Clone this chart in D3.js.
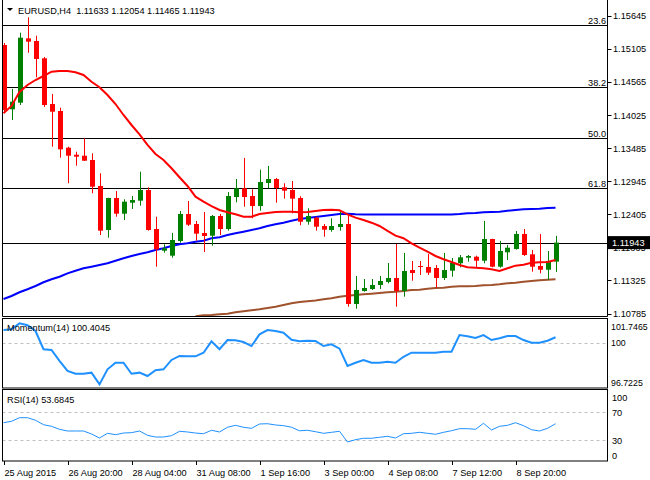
<!DOCTYPE html>
<html>
<head>
<meta charset="utf-8">
<script src="https://cdn.jsdelivr.net/npm/d3@7"></script>
<style>
body { margin: 0; background: #fff; }
svg text { font-family: "Liberation Sans", Arial, sans-serif; font-size: 9.2px; fill: #000; }
</style>
</head>
<body>
<div class="plot_canvas"></div>
<script>
// EURUSD H4 candles
var opens  = [1.15167,1.14118,1.14226,1.15276,1.15232,1.14950,1.14204,1.14090,1.13492,1.13377,
              1.13361,1.13291,1.12867,1.12149,1.12671,1.12415,1.12594,1.12627,1.12801,1.12165,
              1.11811,1.11730,1.11969,1.12410,1.12247,1.12100,1.12056,1.12377,1.12165,1.12687,
              1.12829,1.12704,1.12540,1.12916,1.12981,1.12846,1.12801,1.12671,1.12284,1.12350,
              1.12214,1.12149,1.12198,1.12247,1.10942,1.11154,1.11186,1.11252,1.11301,1.11366,
              1.11154,1.11496,1.11562,1.11545,1.11529,1.11366,1.11485,1.11606,1.11697,1.11713,
              1.11648,1.12002,1.11550,1.11785,1.11839,1.12084,1.11752,1.11562,1.11501,1.11633];
var highs  = [1.15200,1.14449,1.15368,1.15619,1.15319,1.14971,1.14368,1.14144,1.13508,1.13426,
              1.13645,1.13400,1.13074,1.12675,1.12785,1.12650,1.12704,1.13100,1.12846,1.12366,
              1.11916,1.12100,1.12459,1.12622,1.12296,1.12443,1.12394,1.12410,1.12769,1.12981,
              1.13324,1.12813,1.13133,1.13193,1.12997,1.12911,1.12948,1.12699,1.12503,1.12366,
              1.12247,1.12340,1.12464,1.12394,1.11398,1.11349,1.11349,1.11398,1.11611,1.11921,
              1.11774,1.11643,1.11643,1.11757,1.11578,1.11774,1.11692,1.11741,1.11741,1.11730,
              1.12296,1.12005,1.11969,1.11904,1.12133,1.12165,1.11823,1.12084,1.11806,1.12054];
var lows   = [1.14074,1.13943,1.14188,1.15041,1.14640,1.14156,1.13508,1.13328,1.12911,1.13198,
              1.13275,1.12748,1.12067,1.12023,1.12366,1.12312,1.12492,1.12545,1.12138,1.11550,
              1.11779,1.11697,1.11942,1.12214,1.11974,1.11790,1.11893,1.12067,1.12138,1.12601,
              1.12529,1.12340,1.12464,1.12829,1.12594,1.12660,1.12421,1.12226,1.12235,1.12138,
              1.12040,1.12121,1.12138,1.10898,1.10865,1.11142,1.11170,1.11186,1.11279,1.10898,
              1.11061,1.11322,1.11415,1.11415,1.11203,1.11333,1.11387,1.11540,1.11632,1.11540,
              1.11606,1.11540,1.11534,1.11660,1.11828,1.11725,1.11469,1.11442,1.11333,1.11465];
var closes = [1.14107,1.14242,1.15286,1.15221,1.14939,1.14188,1.14079,1.13465,1.13361,1.13345,
              1.13279,1.12855,1.12138,1.12671,1.12415,1.12611,1.12638,1.12801,1.12149,1.11834,
              1.11850,1.11986,1.12410,1.12235,1.12089,1.12051,1.12377,1.12165,1.12704,1.12829,
              1.12687,1.12540,1.12932,1.12981,1.12834,1.12790,1.12660,1.12284,1.12377,1.12203,
              1.12154,1.12214,1.12247,1.10942,1.11170,1.11203,1.11252,1.11317,1.11366,1.11154,
              1.11480,1.11447,1.11545,1.11452,1.11366,1.11496,1.11615,1.11703,1.11725,1.11648,
              1.12002,1.11550,1.11806,1.11860,1.12084,1.11741,1.11550,1.11501,1.11643,1.11943];

// moving averages (red / blue / brown)
var maFast = [1.14053,1.14172,1.14400,1.14514,1.14596,1.14661,1.14731,1.14743,1.14743,1.14722,
              1.14678,1.14568,1.14477,1.14351,1.14204,1.14025,1.13862,1.13710,1.13536,1.13389,
              1.13291,1.13156,1.13009,1.12867,1.12692,1.12611,1.12540,1.12475,1.12438,1.12405,
              1.12366,1.12366,1.12410,1.12426,1.12443,1.12447,1.12447,1.12438,1.12443,1.12459,
              1.12475,1.12480,1.12470,1.12405,1.12350,1.12312,1.12268,1.12214,1.12133,1.12056,
              1.12014,1.11932,1.11860,1.11795,1.11725,1.11671,1.11627,1.11578,1.11540,1.11534,
              1.11524,1.11508,1.11480,1.11524,1.11567,1.11583,1.11615,1.11622,1.11627,1.11660];
var maMid  = [1.11023,1.11072,1.11133,1.11182,1.11235,1.11296,1.11345,1.11387,1.11442,1.11485,
              1.11524,1.11550,1.11578,1.11606,1.11648,1.11687,1.11725,1.11757,1.11785,1.11823,
              1.11850,1.11888,1.11916,1.11932,1.11958,1.11974,1.12014,1.12030,1.12067,1.12095,
              1.12121,1.12149,1.12177,1.12214,1.12242,1.12268,1.12301,1.12328,1.12345,1.12361,
              1.12377,1.12394,1.12410,1.12415,1.12405,1.12402,1.12400,1.12400,1.12400,1.12400,
              1.12400,1.12400,1.12400,1.12400,1.12400,1.12400,1.12402,1.12410,1.12421,1.12426,
              1.12438,1.12443,1.12447,1.12464,1.12475,1.12487,1.12492,1.12496,1.12508,1.12513];
var maSlowStart = 24;
var maSlow = [1.10740,1.10757,1.10762,1.10774,1.10783,1.10806,1.10823,1.10839,1.10855,1.10876,
              1.10898,1.10925,1.10953,1.10974,1.10987,1.10999,1.11018,1.11035,1.11061,1.11077,
              1.11089,1.11100,1.11110,1.11121,1.11133,1.11142,1.11154,1.11170,1.11175,1.11191,
              1.11203,1.11208,1.11224,1.11230,1.11230,1.11235,1.11247,1.11252,1.11263,1.11279,
              1.11289,1.11305,1.11317,1.11328,1.11338,1.11345];

var momentum = [100.92,100.97,101.40,101.26,100.85,99.54,99.49,98.70,97.98,97.78,
                97.78,97.86,97.02,98.10,98.57,98.57,97.78,97.86,97.62,98.03,
                98.10,98.77,99.06,99.03,99.03,99.29,100.11,99.54,100.20,100.18,
                100.06,99.77,100.61,100.92,100.85,100.73,100.22,100.12,100.15,100.13,
                99.77,99.89,99.58,98.34,98.57,98.77,98.57,98.57,98.65,98.57,
                99.00,99.29,99.29,99.29,99.29,99.36,99.36,100.56,100.47,100.35,
                100.56,100.20,100.33,100.49,100.49,100.20,100.01,100.01,100.15,100.40];
var rsi = [55.1,57.1,62.3,62.3,58.6,52.3,50.0,45.7,43.3,43.3,
           43.3,39.0,33.3,40.0,38.0,40.4,40.9,43.3,37.1,34.7,
           34.7,36.6,42.9,41.9,40.4,39.4,44.3,41.9,48.6,51.4,
           48.6,47.1,53.3,53.7,51.9,50.9,48.7,43.6,44.3,42.3,
           40.0,41.4,42.9,27.6,30.9,32.9,32.9,34.3,35.7,33.3,
           39.4,40.0,41.4,40.0,38.6,41.4,43.7,46.6,46.6,45.7,
           54.3,44.7,50.0,51.4,55.1,50.9,45.1,43.3,47.1,53.68];

var priceTicks = [1.15645,1.15105,1.14565,1.14025,1.13485,1.12945,1.12405,1.11865,1.11325,1.10785];
var fibLevels = [1.15493,1.14482,1.13650,1.12834];
var fibNames = ["23.6","38.2","50.0","61.8"];
var momTicks = [101.7465,100,96.7225];
var rsiTicks = [100,70,30,0];
var rsiLevels = [70,30];
var timeIdx = [0,8,16,24,32,40,48,56,64];
var timeLabels = ["25 Aug 2015","26 Aug 20:00","28 Aug 04:00","31 Aug 08:00","1 Sep 16:00",
                  "3 Sep 00:00","4 Sep 08:00","7 Sep 12:00","8 Sep 20:00"];
var header = "EURUSD,H4  1.11633 1.12054 1.11465 1.11943";

var width = 650, height = 480;
var left = 2.5, right = 607.5;
var main = {top: 0, bottom: 316.5};
var momP = {top: 318.5, bottom: 388};
var rsiP = {top: 389.5, bottom: 461};

var x = d3.scaleLinear().domain([0, 69]).range([3.5, 555.5]);
var y = d3.scaleLinear().domain([1.10785, 1.15645]).range([313.6, 15.7]);
var yMom = d3.scaleLinear().domain([96.7225, 101.7465]).range([388.5, 318.5]);
var yRsi = d3.scaleLinear().domain([0, 100]).range([461.3, 391.3]);

var svg = d3.select(".plot_canvas").append("svg")
  .attr("width", width).attr("height", height);

svg.append("clipPath").attr("id", "clipMain").append("rect")
  .attr("x", left).attr("y", main.top).attr("width", right - left).attr("height", main.bottom - main.top);

var g = svg.append("g").attr("clip-path", "url(#clipMain)");

// fibo levels + bid line
g.selectAll(".fib").data(fibLevels.concat([closes[closes.length - 1]])).enter().append("line")
  .attr("x1", left).attr("x2", right)
  .attr("y1", function(d) { return Math.round(y(d)) + 0.5; })
  .attr("y2", function(d) { return Math.round(y(d)) + 0.5; })
  .attr("stroke", "#000").attr("stroke-width", 1);

svg.selectAll(".fibname").data(fibLevels).enter().append("text")
  .attr("x", 606).attr("y", function(d) { return Math.round(y(d)) - 1.5; })
  .attr("text-anchor", "end")
  .text(function(d, i) { return fibNames[i]; });

// moving averages
var ma = d3.line().x(function(d) { return x(d[0]); }).y(function(d) { return y(d[1]); });
g.append("path").attr("d", ma(maMid.map(function(v, i) { return [i, v]; })))
  .attr("fill", "none").attr("stroke", "#0000ff").attr("stroke-width", 2);
g.append("path").attr("d", ma(maSlow.map(function(v, i) { return [i + maSlowStart, v]; })))
  .attr("fill", "none").attr("stroke", "#a0522d").attr("stroke-width", 2);

// candles
var candles = g.selectAll(".candle").data(opens).enter().append("g");
candles.append("line")
  .attr("x1", function(d, i) { return Math.round(x(i)) + 0.5; })
  .attr("x2", function(d, i) { return Math.round(x(i)) + 0.5; })
  .attr("y1", function(d, i) { return y(highs[i]); })
  .attr("y2", function(d, i) { return y(lows[i]); })
  .attr("stroke", function(d, i) { return closes[i] >= d ? "#008000" : "#ff0000"; });
candles.append("rect")
  .attr("x", function(d, i) { return Math.round(x(i)) - 2; })
  .attr("width", 5)
  .attr("y", function(d, i) { return y(Math.max(d, closes[i])); })
  .attr("height", function(d, i) { return Math.max(1, Math.abs(y(d) - y(closes[i]))); })
  .attr("fill", function(d, i) { return closes[i] >= d ? "#008000" : "#ff0000"; });

g.append("path").attr("d", ma(maFast.map(function(v, i) { return [i, v]; })))
  .attr("fill", "none").attr("stroke", "#ff0000").attr("stroke-width", 2);

// header
svg.append("path").attr("d", "M7,8 L13,8 L10,11 Z").attr("fill", "#000");
svg.append("text").attr("x", 18).attr("y", 14).style("white-space", "pre").text(header);

// momentum panel
svg.append("line").attr("x1", left).attr("x2", right)
  .attr("y1", Math.round(yMom(100)) + 0.5).attr("y2", Math.round(yMom(100)) + 0.5)
  .attr("stroke", "#c0c0c0").attr("stroke-dasharray", "3,3");
svg.append("path")
  .attr("d", d3.line().x(function(d, i) { return x(i); }).y(function(d) { return yMom(d); })(momentum))
  .attr("fill", "none").attr("stroke", "#1e90ff").attr("stroke-width", 2);
svg.append("text").attr("x", 7).attr("y", 331).text("Momentum(14) 100.4045");

// rsi panel
svg.selectAll(".rsilvl").data(rsiLevels).enter().append("line")
  .attr("x1", left).attr("x2", right)
  .attr("y1", function(d) { return Math.round(yRsi(d)) + 0.5; })
  .attr("y2", function(d) { return Math.round(yRsi(d)) + 0.5; })
  .attr("stroke", "#c0c0c0").attr("stroke-dasharray", "3,3");
svg.append("path")
  .attr("d", d3.line().x(function(d, i) { return x(i); }).y(function(d) { return yRsi(d); })(rsi))
  .attr("fill", "none").attr("stroke", "#1e90ff").attr("stroke-width", 1);
svg.append("text").attr("x", 7).attr("y", 403).text("RSI(14) 53.6845");

// panel frames
svg.append("path")
  .attr("d", "M" + left + "," + main.top + "V" + main.bottom + "H" + right + "V" + main.top)
  .attr("fill", "none").attr("stroke", "#000");
[momP, rsiP].forEach(function(p) {
  svg.append("rect").attr("x", left).attr("y", p.top)
    .attr("width", right - left).attr("height", p.bottom - p.top)
    .attr("fill", "none").attr("stroke", "#000");
});

// right price axis
var axisR = svg.append("g");
axisR.selectAll(".pt").data(priceTicks).enter().append("line")
  .attr("x1", right).attr("x2", right + 4)
  .attr("y1", function(d) { return Math.round(y(d)) + 0.5; })
  .attr("y2", function(d) { return Math.round(y(d)) + 0.5; })
  .attr("stroke", "#000");
axisR.selectAll(".pl").data(priceTicks).enter().append("text")
  .attr("x", 613).attr("y", function(d) { return y(d) + 3.5; })
  .text(function(d) { return d.toFixed(5); });

// bid box sits on top of the tick label below it, as in the terminal
var last = closes[closes.length - 1];
axisR.append("rect").attr("x", 608).attr("y", y(last) - 6.5).attr("width", 42).attr("height", 13).attr("fill", "#000");
axisR.append("text").attr("x", 612).attr("y", y(last) + 3.5).style("fill", "#fff").text(last.toFixed(5));

// indicator axis labels (clamped inside their panels like the terminal does)
function clampLabel(v, sc, p) { return Math.min(p.bottom - 6, Math.max(p.top + 8, sc(v))); }
svg.selectAll(".ml").data(momTicks).enter().append("text")
  .attr("x", 611).attr("y", function(d) { return clampLabel(d, yMom, momP) + 3.5; })
  .style("font-size", "8.8px")
  .text(function(d) { return d; });
svg.selectAll(".rl").data(rsiTicks).enter().append("text")
  .attr("x", 612).attr("y", function(d) { return clampLabel(d, yRsi, rsiP) + 3.5; })
  .text(function(d) { return d; });

// time axis
svg.selectAll(".tt").data(timeIdx).enter().append("line")
  .attr("x1", function(d) { return Math.round(x(d)) + 0.5; })
  .attr("x2", function(d) { return Math.round(x(d)) + 0.5; })
  .attr("y1", rsiP.bottom).attr("y2", rsiP.bottom + 4)
  .attr("stroke", "#000");
svg.selectAll(".tl").data(timeIdx).enter().append("text")
  .attr("x", function(d) { return x(d) + 1; }).attr("y", 476)
  .text(function(d, i) { return timeLabels[i]; });
</script>
</body>
</html>
